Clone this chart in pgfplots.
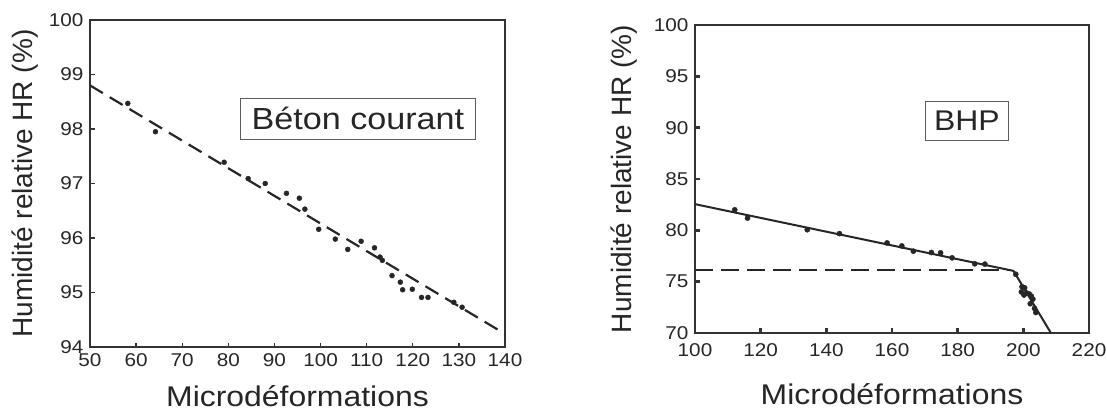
\documentclass[border=0pt]{standalone}
\usepackage{fontspec}
\setmainfont{Liberation Sans}[FakeStretch=1.12]
\newfontfamily\yfont{Liberation Sans}
\usepackage{pgfplots}
\pgfplotsset{compat=1.18}
\definecolor{ink}{HTML}{262626}
\definecolor{frame}{HTML}{333333}

\pgfplotstableread{
x y
58.2 98.47
64.2 97.95
79.1 97.39
84.3 97.09
88.0 97.00
92.6 96.82
95.4 96.73
96.6 96.53
99.6 96.16
103.2 95.98
105.9 95.79
108.8 95.94
111.7 95.82
112.9 95.65
113.4 95.59
115.5 95.31
117.3 95.19
117.8 95.05
119.9 95.06
121.9 94.91
123.3 94.91
128.9 94.82
130.7 94.73
}\betondata

\pgfplotstableread{
x y
112.1 82.00
116.0 81.19
134.2 80.06
144.0 79.68
158.5 78.77
163.0 78.48
166.5 77.97
172.0 77.84
174.8 77.81
178.3 77.32
185.2 76.74
188.3 76.71
197.7 75.72
199.6 74.50
200.4 74.40
199.4 74.00
200.2 73.70
201.0 73.90
201.8 73.80
202.4 73.60
202.9 73.30
202.1 72.85
203.4 72.40
203.8 72.00
}\bhpdata

\begin{document}
\begin{tikzpicture}[x=1pt,y=1pt]
\path[use as bounding box] (0,0) rectangle (1107,412);
\pgfplotsset{
  common/.style={
    scale only axis,
    anchor=south west,
    xtick pos=bottom, ytick pos=left,
    tick align=inside,
    major tick length=4.5pt,
    axis line style={draw=frame, line width=1.8pt},
    /pgf/number format/assume math mode=true,
    ticklabel style={font=\fontsize{18.5}{20}\selectfont, text=ink},
    yticklabel style={xshift=-3pt},
    xlabel style={font=\fontsize{28.5}{30}\selectfont, text=ink, anchor=center},
    ylabel style={font=\yfont\fontsize{28}{30}\selectfont, text=ink, anchor=center},
  }
}
% ---------- left panel ----------
\begin{axis}[common,
  at={(90pt,65pt)},
  width=415pt, height=327pt,
  xmin=50, xmax=140, ymin=94, ymax=100,
  xtick={50,60,...,140}, ytick={94,95,...,100},
  major tick style={draw=frame, line width=1.3pt},
  xticklabel style={yshift=-3pt},
  xlabel={Microdéformations},
  ylabel={Humidité relative HR (\%)},
  xlabel style={at={(axis description cs:0.5,-0.15)}},
  ylabel style={at={(axis description cs:-0.157,0.5)}},
]
\addplot[ink, line width=2.2pt, dash pattern=on 15pt off 8pt] coordinates {(50,98.80) (140,94.24)};
\addplot[only marks, mark=*, mark size=2.5pt, ink] table[x=x,y=y] {\betondata};
\node[draw=frame!80, line width=0.8pt, minimum width=235pt, minimum height=41pt,
      font=\fontsize{30.5}{32}\selectfont, text=ink] at (axis cs:108.1,98.19) {Béton courant};
\end{axis}
% ---------- right panel ----------
\begin{axis}[common,
  at={(695pt,79pt)},
  width=394pt, height=308pt,
  xmin=100, xmax=220, ymin=70, ymax=100,
  xtick={100,120,...,220}, ytick={70,75,...,100},
  major tick style={draw=frame, line width=2.8pt},
  xticklabel style={yshift=-7pt},
  xlabel={Microdéformations},
  ylabel={Humidité relative HR (\%)},
  xlabel style={at={(axis description cs:0.5,-0.198)}},
  ylabel style={at={(axis description cs:-0.18,0.5)}},
]
\addplot[ink, line width=2pt, dash pattern=on 18pt off 8pt] coordinates {(100,76.1) (196,76.1)};
\addplot[ink, line width=2pt] coordinates {(100,82.55) (197,76.05) (208.4,70)};
\addplot[only marks, mark=*, mark size=2.6pt, ink] table[x=x,y=y] {\bhpdata};
\node[draw=frame!80, line width=0.8pt, minimum width=83pt, minimum height=39pt,
      font=\fontsize{28.5}{30}\selectfont, text=ink] at (axis cs:182.8,90.7) {BHP};
\end{axis}
\end{tikzpicture}
\end{document}
